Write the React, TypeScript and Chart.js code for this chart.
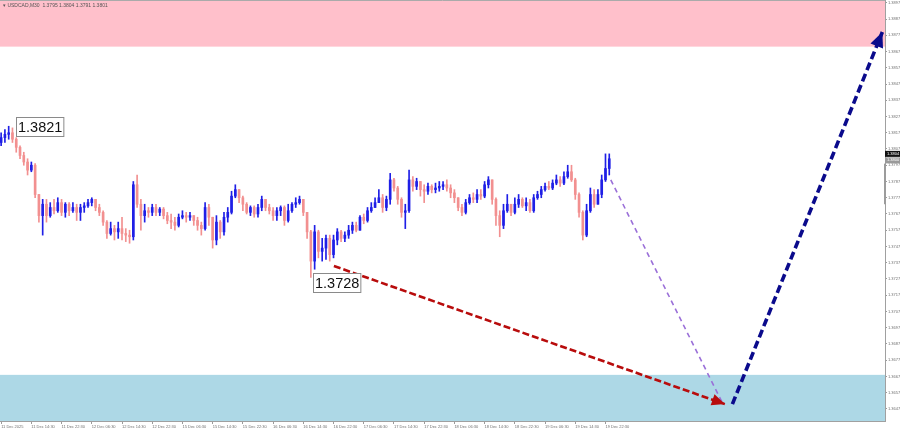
import React, { useEffect, useRef } from 'react';
import { Chart, registerables } from 'chart.js';

Chart.register(...registerables);

const SYMBOL_HEADER = '\u25BE USDCAD,M30  1.3795 1.3804 1.3791 1.3801';

const DATE_LABELS = [
  '11 Dec 2025', '11 Dec 14:30', '11 Dec 22:30', '12 Dec 06:30', '12 Dec 14:30', '12 Dec 22:30',
  '15 Dec 06:30', '15 Dec 14:30', '15 Dec 22:30', '16 Dec 06:30', '16 Dec 14:30', '16 Dec 22:30',
  '17 Dec 06:30', '17 Dec 14:30', '17 Dec 22:30', '18 Dec 06:30', '18 Dec 14:30', '18 Dec 22:30',
  '19 Dec 06:30', '19 Dec 14:30', '19 Dec 22:30',
];
const HOURS_PER_LABEL = 8;

const Y_TICKS = [
  1.3647, 1.3657, 1.3667, 1.3677, 1.3687, 1.3697, 1.3707, 1.3717, 1.3727, 1.3737, 1.3747, 1.3757, 1.3767,
  1.3777, 1.3787, 1.3797, 1.3807, 1.3817, 1.3827, 1.3837, 1.3847, 1.3857, 1.3867, 1.3877, 1.3887, 1.3897,
];

// hourly candles (open of first bar, then open = previous close)
const OPEN_FIRST = 1.3811;
const CLOSE = [
  1.3814, 1.3816, 1.3817, 1.3813, 1.3808, 1.3803, 1.3799, 1.3794, 1.3797, 1.3779,
  1.3766, 1.3773, 1.3766, 1.3771, 1.3769, 1.3774, 1.3768, 1.3773, 1.3769, 1.3771,
  1.3768, 1.3771, 1.3772, 1.3774, 1.3776, 1.3771, 1.3768, 1.3762, 1.3755, 1.3758,
  1.3756, 1.3758, 1.3755, 1.3754, 1.3753, 1.3785, 1.3773, 1.3766, 1.3769, 1.3768,
  1.3771, 1.3768, 1.3770, 1.3766, 1.3763, 1.3762, 1.3760, 1.3765, 1.3766, 1.3765,
  1.3766, 1.3763, 1.3760, 1.3758, 1.3771, 1.3765, 1.3751, 1.3762, 1.3756, 1.3765,
  1.3768, 1.3778, 1.3782, 1.3777, 1.3773, 1.3768, 1.3771, 1.3767, 1.3771, 1.3776,
  1.3771, 1.3769, 1.3766, 1.3769, 1.3771, 1.3763, 1.3769, 1.3773, 1.3774, 1.3776,
  1.3768, 1.3756, 1.3738, 1.3756, 1.3744, 1.3746, 1.3752, 1.3742, 1.3751, 1.3756,
  1.3752, 1.3754, 1.3757, 1.3760, 1.3757, 1.3765, 1.3763, 1.3769, 1.3771, 1.3774,
  1.3777, 1.3771, 1.3776, 1.3788, 1.3783, 1.3776, 1.3768, 1.3769, 1.3788, 1.3784,
  1.3787, 1.3782, 1.3781, 1.3784, 1.3782, 1.3783, 1.3784, 1.3785, 1.3783, 1.3780,
  1.3777, 1.3771, 1.3768, 1.3774, 1.3777, 1.3776, 1.3779, 1.3778, 1.3785, 1.3788,
  1.3776, 1.3766, 1.3760, 1.3769, 1.3773, 1.3768, 1.3773, 1.3776, 1.3772, 1.3774,
  1.3769, 1.3777, 1.3779, 1.3782, 1.3784, 1.3783, 1.3786, 1.3788, 1.3786, 1.3790,
  1.3793, 1.3788, 1.3779, 1.3768, 1.3754, 1.3769, 1.3779, 1.3773, 1.3779, 1.3788,
  1.3795, 1.3801,
];
const HIGH = [
  1.3817, 1.3819, 1.3821, 1.3820, 1.3814, 1.3809, 1.3805, 1.3801, 1.3799, 1.3798,
  1.3779, 1.3776, 1.3776, 1.3774, 1.3776, 1.3777, 1.3776, 1.3774, 1.3774, 1.3774,
  1.3773, 1.3773, 1.3774, 1.3776, 1.3777, 1.3776, 1.3773, 1.3769, 1.3763, 1.3762,
  1.3760, 1.3762, 1.3765, 1.3758, 1.3757, 1.3787, 1.3791, 1.3776, 1.3773, 1.3771,
  1.3773, 1.3773, 1.3771, 1.3771, 1.3768, 1.3767, 1.3765, 1.3767, 1.3769, 1.3768,
  1.3768, 1.3766, 1.3765, 1.3762, 1.3774, 1.3773, 1.3765, 1.3766, 1.3763, 1.3768,
  1.3771, 1.3781, 1.3785, 1.3782, 1.3778, 1.3774, 1.3772, 1.3772, 1.3773, 1.3778,
  1.3776, 1.3773, 1.3771, 1.3771, 1.3772, 1.3772, 1.3773, 1.3774, 1.3777, 1.3778,
  1.3776, 1.3768, 1.3757, 1.3760, 1.3757, 1.3752, 1.3754, 1.3754, 1.3754, 1.3758,
  1.3757, 1.3756, 1.3760, 1.3762, 1.3762, 1.3766, 1.3767, 1.3771, 1.3774, 1.3777,
  1.3782, 1.3779, 1.3778, 1.3792, 1.3789, 1.3784, 1.3777, 1.3773, 1.3794, 1.3790,
  1.3789, 1.3787, 1.3785, 1.3786, 1.3785, 1.3786, 1.3787, 1.3787, 1.3788, 1.3785,
  1.3782, 1.3777, 1.3773, 1.3776, 1.3779, 1.3780, 1.3782, 1.3782, 1.3787, 1.3790,
  1.3788, 1.3777, 1.3769, 1.3773, 1.3779, 1.3773, 1.3777, 1.3779, 1.3777, 1.3777,
  1.3776, 1.3779, 1.3781, 1.3784, 1.3786, 1.3787, 1.3788, 1.3791, 1.3790, 1.3793,
  1.3797, 1.3797, 1.3789, 1.3780, 1.3769, 1.3773, 1.3783, 1.3782, 1.3782, 1.3791,
  1.3804, 1.3804,
];
const LOW = [
  1.3809, 1.3811, 1.3813, 1.3811, 1.3805, 1.3801, 1.3797, 1.3791, 1.3793, 1.3777,
  1.3762, 1.3754, 1.3762, 1.3765, 1.3767, 1.3768, 1.3766, 1.3765, 1.3766, 1.3768,
  1.3763, 1.3763, 1.3768, 1.3771, 1.3772, 1.3769, 1.3766, 1.3760, 1.3752, 1.3754,
  1.3751, 1.3752, 1.3751, 1.3750, 1.3749, 1.3751, 1.3771, 1.3757, 1.3762, 1.3765,
  1.3766, 1.3766, 1.3766, 1.3764, 1.3761, 1.3758, 1.3757, 1.3759, 1.3764, 1.3762,
  1.3763, 1.3760, 1.3757, 1.3754, 1.3757, 1.3760, 1.3746, 1.3748, 1.3752, 1.3754,
  1.3762, 1.3767, 1.3777, 1.3774, 1.3769, 1.3767, 1.3766, 1.3765, 1.3765, 1.3769,
  1.3769, 1.3767, 1.3763, 1.3763, 1.3766, 1.3760, 1.3762, 1.3768, 1.3771, 1.3773,
  1.3766, 1.3752, 1.3728, 1.3733, 1.3740, 1.3738, 1.3739, 1.3738, 1.3740, 1.3748,
  1.3750, 1.3750, 1.3752, 1.3755, 1.3756, 1.3757, 1.3761, 1.3762, 1.3768, 1.3771,
  1.3774, 1.3768, 1.3769, 1.3773, 1.3781, 1.3773, 1.3765, 1.3758, 1.3768, 1.3781,
  1.3782, 1.3778, 1.3774, 1.3779, 1.3780, 1.3780, 1.3781, 1.3782, 1.3781, 1.3777,
  1.3774, 1.3769, 1.3766, 1.3767, 1.3773, 1.3774, 1.3774, 1.3776, 1.3777, 1.3783,
  1.3773, 1.3760, 1.3753, 1.3758, 1.3768, 1.3766, 1.3767, 1.3771, 1.3771, 1.3769,
  1.3768, 1.3768, 1.3776, 1.3777, 1.3781, 1.3782, 1.3782, 1.3785, 1.3784, 1.3785,
  1.3789, 1.3787, 1.3776, 1.3765, 1.3751, 1.3753, 1.3768, 1.3771, 1.3773, 1.3777,
  1.3787, 1.3791,
];

// zones (price ranges)
const RESISTANCE_ZONE = [1.3870, 1.3910];
const SUPPORT_ZONE = [1.3620, 1.3668];

// forecast arrows: x in hourly bar units, y in price
const ARROW_RED_X = [88.1, 191.6];
const ARROW_RED_Y = [1.3735, 1.3650];
const ARROW_PURPLE_X = [161.4, 190.9];
const ARROW_PURPLE_Y = [1.3788, 1.3651];
const ARROW_BLUE_X = [193.6, 233.3];
const ARROW_BLUE_Y = [1.3650, 1.3879];

// price labels on the chart
const LABEL_INDEX = [2, 82];
const LABEL_VALUE = [1.3821, 1.3728];
const LABEL_TEXT = ['1.3821', '1.3728'];

// price markers on the right axis
const MARKER_VALUE = [1.3804, 1.3800];
const MARKER_TEXT = ['1.3804', '1.3800'];
const AXIS_RANGE_BAR = [1.3773, 1.3798];

const Y_MIN = 1.36396;
const Y_MAX = 1.38987;
const X_MIN = -0.3;
const X_MAX = 234;

const UP_COLOR = '#1f1fe6';
const DOWN_COLOR = '#f29090';

const ARROWS = [
  { xs: ARROW_PURPLE_X, ys: ARROW_PURPLE_Y, color: '#9a6fd8', width: 1.6, dash: [5, 4], head: 0 },
  { xs: ARROW_RED_X, ys: ARROW_RED_Y, color: '#b80c0c', width: 2.6, dash: [7, 3], head: 13 },
  { xs: ARROW_BLUE_X, ys: ARROW_BLUE_Y, color: '#0a0a8c', width: 3.6, dash: [8, 4], head: 15 },
];

const overlayPlugin = {
  id: 'overlay',
  beforeDatasetsDraw(chart: any) {
    const { ctx, chartArea: a, scales } = chart;
    const y = scales.y;
    ctx.save();
    const zone = (range: number[], color: string) => {
      const top = Math.max(a.top, y.getPixelForValue(range[1]));
      const bot = Math.min(a.bottom, y.getPixelForValue(range[0]));
      ctx.fillStyle = color;
      ctx.fillRect(a.left, top, a.right - a.left, bot - top);
    };
    zone(RESISTANCE_ZONE, '#ffc0cb');
    zone(SUPPORT_ZONE, '#add8e6');
    ctx.strokeStyle = '#aaaaaa';
    ctx.lineWidth = 1;
    ctx.beginPath();
    ctx.moveTo(a.left, a.top + 0.5);
    ctx.lineTo(a.right, a.top + 0.5);
    ctx.stroke();
    ctx.restore();
  },
  afterDatasetsDraw(chart: any) {
    const { ctx, chartArea: a, scales } = chart;
    const x = scales.x;
    const y = scales.y;
    ctx.save();
    // arrowheads
    ARROWS.forEach((ar) => {
      if (!ar.head) return;
      const x0 = x.getPixelForValue(ar.xs[0]);
      const y0 = y.getPixelForValue(ar.ys[0]);
      const x1 = x.getPixelForValue(ar.xs[1]);
      const y1 = y.getPixelForValue(ar.ys[1]);
      const ang = Math.atan2(y1 - y0, x1 - x0);
      const L = ar.head;
      const W = ar.head * 0.45;
      const bx = x1 - Math.cos(ang) * L;
      const by = y1 - Math.sin(ang) * L;
      ctx.fillStyle = ar.color;
      ctx.beginPath();
      ctx.moveTo(x1, y1);
      ctx.lineTo(bx + Math.sin(ang) * W, by - Math.cos(ang) * W);
      ctx.lineTo(bx - Math.sin(ang) * W, by + Math.cos(ang) * W);
      ctx.closePath();
      ctx.fill();
    });
    // price labels
    ctx.font = '14.5px "Liberation Sans", Arial, sans-serif';
    ctx.textBaseline = 'middle';
    ctx.textAlign = 'left';
    const offsets = [[7.5, -9], [2.5, -4.5]];
    LABEL_INDEX.forEach((idx, k) => {
      const px = x.getPixelForValue(idx) + offsets[k][0];
      const py = y.getPixelForValue(LABEL_VALUE[k]) + offsets[k][1];
      const w = ctx.measureText(LABEL_TEXT[k]).width + 3;
      const h = 19;
      ctx.fillStyle = '#ffffff';
      ctx.fillRect(Math.round(px) + 0.5, Math.round(py) + 0.5, w, h);
      ctx.strokeStyle = '#8a8a8a';
      ctx.lineWidth = 1;
      ctx.strokeRect(Math.round(px) + 0.5, Math.round(py) + 0.5, w, h);
      ctx.fillStyle = '#111111';
      ctx.fillText(LABEL_TEXT[k], Math.round(px) + 2, Math.round(py) + 10.5);
    });
    // header
    ctx.font = '5px "Liberation Sans", Arial, sans-serif';
    ctx.fillStyle = '#555555';
    ctx.textBaseline = 'top';
    ctx.fillText(SYMBOL_HEADER, a.left + 3, a.top + 3);
    // gray range bar on the price axis
    ctx.fillStyle = '#9c9c9c';
    const rb0 = y.getPixelForValue(AXIS_RANGE_BAR[1]);
    const rb1 = y.getPixelForValue(AXIS_RANGE_BAR[0]);
    ctx.fillRect(a.right - 1, rb0, 2, rb1 - rb0);
    // right-axis price markers
    ctx.font = '4px "Liberation Sans", Arial, sans-serif';
    ctx.textBaseline = 'middle';
    MARKER_VALUE.forEach((v, k) => {
      const py = y.getPixelForValue(v);
      ctx.fillStyle = k === 0 ? '#111111' : '#9a9a9a';
      ctx.fillRect(a.right, py - 3, 15, 6);
      ctx.fillStyle = '#ffffff';
      ctx.fillText(MARKER_TEXT[k], a.right + 2, py);
    });
    ctx.restore();
  },
};

export default function App() {
  const ref = useRef<HTMLCanvasElement>(null);
  useEffect(() => {
    document.body.style.margin = '0';
    const canvas = ref.current;
    if (!canvas) return;
    const opens = [OPEN_FIRST, ...CLOSE.slice(0, -1)];
    const colors = CLOSE.map((c, i) => (c >= opens[i] ? UP_COLOR : DOWN_COLOR));
    const wicks = CLOSE.map((c, i) => ({
      x: i,
      y: [Math.min(LOW[i], opens[i], c), Math.max(HIGH[i], opens[i], c)],
    }));
    const bodies = CLOSE.map((c, i) => ({ x: i, y: [opens[i], c] }));

    const arrowSets = ARROWS.map((ar, k) => ({
      type: 'line' as const,
      data: ar.xs.map((xv, j) => ({ x: xv, y: ar.ys[j] })),
      borderColor: ar.color,
      borderWidth: ar.width,
      borderDash: ar.dash,
      pointRadius: 0,
      fill: false,
      order: k,
    }));

    const chart = new Chart(canvas, {
      type: 'bar',
      data: {
        datasets: [
          ...arrowSets,
          {
            type: 'bar' as const,
            data: bodies as any,
            backgroundColor: colors,
            borderWidth: 0,
            barThickness: 2,
            minBarLength: 1,
            grouped: false,
            order: 5,
          },
          {
            type: 'bar' as const,
            data: wicks as any,
            backgroundColor: colors,
            borderWidth: 0,
            barThickness: 1,
            grouped: false,
            order: 6,
          },
        ] as any,
      },
      options: {
        animation: false,
        responsive: false,
        events: [],
        layout: { padding: 0 },
        plugins: { legend: { display: false }, tooltip: { enabled: false } },
        scales: {
          x: {
            type: 'linear',
            position: 'bottom',
            offset: false,
            min: X_MIN,
            max: X_MAX,
            grid: { drawOnChartArea: false, drawTicks: true, tickLength: 3, color: '#9a9a9a', offset: false },
            border: { display: true, color: '#a0a0a0' },
            afterBuildTicks: (s: any) => {
              s.ticks = DATE_LABELS.map((_, k) => ({ value: k * HOURS_PER_LABEL }));
            },
            afterFit: (s: any) => {
              s.height = 9;
              s.paddingLeft = 0;
              s.paddingRight = 0;
            },
            ticks: {
              autoSkip: false,
              maxRotation: 0,
              align: 'start',
              padding: 0,
              color: '#707070',
              font: { size: 4, family: '"Liberation Sans", Arial, sans-serif' },
              callback: (_v: any, i: number) => DATE_LABELS[i] ?? '',
            },
          },
          y: {
            type: 'linear',
            position: 'right',
            min: Y_MIN,
            max: Y_MAX,
            grid: { drawOnChartArea: false, drawTicks: true, tickLength: 2, color: '#9a9a9a' },
            border: { display: true, color: '#a0a0a0' },
            afterBuildTicks: (s: any) => {
              s.ticks = Y_TICKS.map((v) => ({ value: v }));
            },
            afterFit: (s: any) => {
              s.width = 15;
              s.paddingTop = 0;
              s.paddingBottom = 0;
            },
            ticks: {
              padding: 1,
              color: '#707070',
              font: { size: 4, family: '"Liberation Sans", Arial, sans-serif' },
              callback: (v: any) => Number(v).toFixed(4),
            },
          },
        },
      } as any,
      plugins: [overlayPlugin],
    });
    return () => chart.destroy();
  }, []);
  return (
    <div style={{ width: 900, height: 430 }}>
      <canvas ref={ref} width={900} height={430} style={{ display: 'block' }} />
    </div>
  );
}
